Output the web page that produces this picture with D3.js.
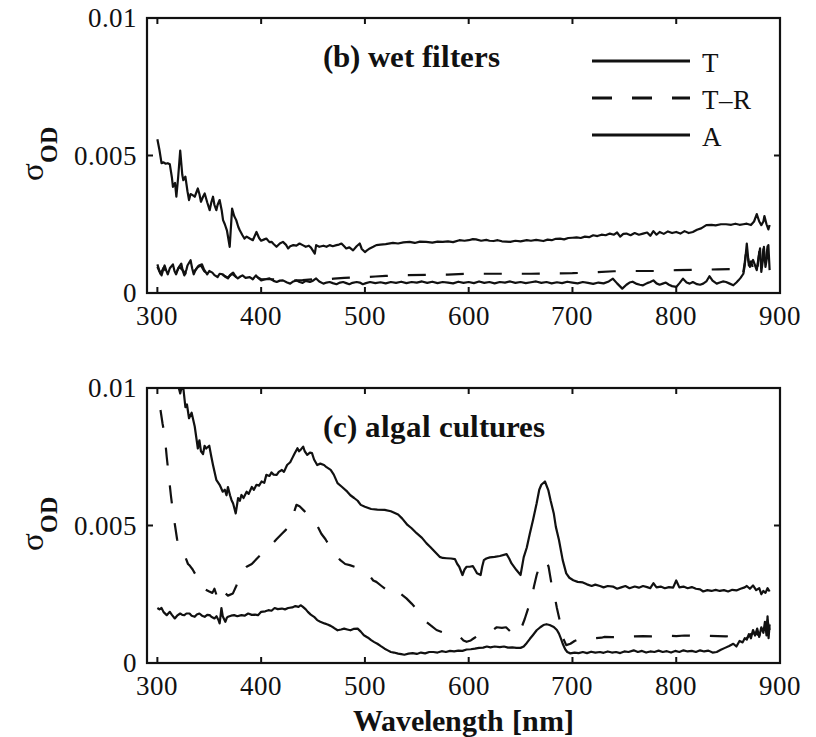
<!DOCTYPE html>
<html>
<head>
<meta charset="utf-8">
<script src="https://cdn.jsdelivr.net/npm/d3@7"></script>
<style>
  @font-face { font-family: "PlotSerif"; font-weight: normal; src: local("Liberation Serif"), local("LiberationSerif"), local("Times New Roman"); }
  @font-face { font-family: "PlotSerif"; font-weight: bold; src: local("Liberation Serif Bold"), local("LiberationSerif-Bold"), local("Times New Roman Bold"); }
  html, body { margin: 0; padding: 0; background: #fff; }
</style>
</head>
<body>
<svg id="fig" width="816" height="737" font-family="Liberation Serif, Times New Roman, serif"></svg>
<script>
// ---------- DATA (wavelength nm, sigma_OD in units of 1e-3) ----------
const xTicks = [300, 400, 500, 600, 700, 800, 900];
const yTicks = [0, 0.005, 0.01];
const yTickLabels = ["0", "0.005", "0.01"];
const panelTitles = ["(b) wet filters", "(c) algal cultures"];
const legendLabels = ["T", "T\u2013R", "A"];

// (b) wet filters
const wetT = [[300,5.59],[302,5.2],[304,4.72],[306,4.75],[308,4.7],[310,4.72],[312,4.68],[314,4.2],[315,3.86],[317,4.0],[318.3,3.5],[320,4.2],[322,5.18],[324,4.3],[325,4.1],[327,4.23],[329,3.7],[330.5,3.38],[332,3.6],[334,3.56],[336,3.5],[339,3.8],[340.5,3.6],[342,3.32],[344,3.5],[345.6,3.62],[348,3.3],[350.4,3.01],[352,3.3],[353.6,3.5],[355,3.2],[356.8,3.01],[358,3.2],[360,3.38],[362,3.0],[363.3,2.65],[365,2.5],[367,2.28],[369.7,1.68],[372,3.07],[374,2.8],[376,2.65],[378,2.4],[379.4,2.28],[382,2.1],[384,1.98],[386,2.05],[389,1.98],[392,1.92],[395.5,2.22],[398,2.0],[400,1.9],[403,1.95],[405,1.98],[408,1.85],[410,1.86],[412,1.78],[414.8,1.68],[418,1.8],[421,1.86],[424,1.75],[426,1.62],[428,1.7],[431,1.74],[434,1.72],[437,1.8],[440,1.74],[443,1.68],[446,1.72],[448,1.65],[451.7,1.43],[453,1.74],[456,1.68],[460,1.72],[463,1.68],[466,1.74],[469,1.7],[472.6,1.74],[475,1.76],[477.4,1.8],[480,1.7],[482,1.62],[485,1.66],[488.6,1.55],[492,1.7],[495,1.8],[497,1.6],[500,1.49],[502,1.55],[504.7,1.62],[508,1.68],[511,1.74],[515,1.76],[520,1.78],[527,1.82],[532,1.8],[537,1.84],[543,1.86],[548,1.82],[553,1.87],[559,1.86],[565,1.83],[570,1.87],[575,1.86],[580,1.88],[585,1.85],[591,1.92],[596,1.9],[600,1.92],[604,1.96],[607,1.95],[612,1.9],[617,1.93],[620,1.9],[624,1.89],[628,1.92],[632,1.88],[636,1.87],[640,1.86],[645,1.9],[650,1.88],[656,1.92],[660,1.9],[665,1.93],[672,1.89],[676,1.94],[680,1.92],[684,1.97],[688,1.98],[692,1.95],[696,2.0],[700,2.01],[704,2.02],[708,2.0],[712,2.05],[716,2.03],[720,2.1],[724,2.07],[728,2.12],[732,2.1],[736,2.16],[740,2.12],[743,2.2],[746,2.05],[749,2.15],[752,2.16],[756,2.1],[760,2.18],[764,2.12],[768,2.16],[772,2.2],[775,2.08],[778,2.25],[781,2.12],[784,2.22],[788,2.15],[792,2.24],[796,2.18],[800,2.22],[804,2.16],[808,2.25],[812,2.18],[816,2.22],[820,2.3],[824,2.35],[829,2.47],[834,2.48],[838,2.46],[843,2.5],[848,2.5],[853,2.48],[857,2.52],[861,2.48],[864.7,2.5],[868,2.52],[872,2.47],[875,2.6],[877.6,2.87],[880,2.6],[882,2.47],[884,2.6],[885,2.8],[887,2.5],[888.8,2.31],[890,2.47]];

const wetTR = [[300,0.95],[303,0.7],[306,0.92],[309,0.75],[312,0.95],[315,1.0],[318,0.72],[321,0.95],[324,0.85],[327,0.7],[330,1.05],[333,1.12],[336,0.8],[339,0.95],[342,1.0],[345,0.8],[348,0.7],[352,0.76],[356,0.62],[360,0.68],[364,0.64],[368,0.56],[372,0.7],[376,0.58],[380,0.62],[385,0.58],[390,0.56],[395,0.6],[400,0.5],[410,0.5],[420,0.48],[430,0.45],[440,0.47],[450,0.5],[460,0.48],[470,0.52],[480,0.55],[490,0.57],[500,0.58],[510,0.6],[520,0.62],[530,0.64],[540,0.65],[560,0.66],[580,0.67],[600,0.7],[620,0.7],[640,0.7],[660,0.7],[680,0.71],[700,0.72],[720,0.75],[740,0.79],[760,0.8],[780,0.8],[800,0.83],[820,0.84],[840,0.86],[855,0.87],[860,0.75],[864,0.6],[866,1.1],[868,1.7],[870,1.0],[872,1.15],[874,0.9],[876,1.1],[878,0.8],[880,1.5],[882,0.85],[884,1.6],[886,1.0],[888,1.7],[890,0.9]];

const wetA = [[300,1.04],[302,0.8],[304,0.64],[306,0.9],[307,1.0],[308.5,0.82],[310,0.68],[312,0.9],[315,1.04],[316.5,0.8],[318,0.68],[320,0.9],[323,1.07],[324.5,0.8],[326,0.64],[328,0.85],[329,1.0],[332,1.19],[333.5,0.9],[335,0.68],[337,0.85],[340,1.0],[343,1.04],[345,0.85],[348,0.68],[350,0.8],[353,0.74],[355,0.65],[358,0.58],[360,0.7],[363,0.68],[365,0.6],[368,0.53],[370,0.65],[373,0.74],[375,0.62],[377.5,0.53],[380,0.6],[382,0.64],[385,0.55],[389,0.58],[392,0.5],[395,0.64],[398,0.52],[400,0.46],[404,0.5],[408,0.53],[412,0.44],[415,0.4],[418,0.45],[421,0.46],[425,0.38],[428,0.34],[431,0.42],[434,0.46],[437,0.4],[440,0.37],[443,0.44],[447,0.4],[450,0.45],[453,0.53],[456,0.42],[460,0.34],[463,0.38],[466,0.4],[469,0.36],[472.6,0.32],[476,0.38],[479,0.4],[482,0.36],[485,0.32],[488,0.37],[492,0.4],[495,0.38],[498,0.32],[501,0.36],[505,0.4],[510,0.36],[515,0.39],[520,0.35],[525,0.4],[530,0.37],[535,0.41],[540,0.36],[545,0.4],[550,0.38],[555,0.42],[560,0.37],[565,0.41],[570,0.36],[575,0.4],[580,0.38],[585,0.35],[590,0.41],[595,0.37],[600,0.4],[605,0.36],[610,0.42],[615,0.37],[620,0.4],[625,0.35],[630,0.4],[635,0.38],[640,0.42],[645,0.37],[650,0.4],[655,0.36],[660,0.39],[665,0.42],[670,0.37],[675,0.4],[680,0.35],[685,0.39],[690,0.36],[695,0.41],[700,0.38],[705,0.35],[710,0.4],[715,0.37],[720,0.33],[725,0.38],[730,0.35],[735,0.42],[739,0.52],[743,0.35],[748,0.16],[752,0.3],[755,0.38],[758,0.41],[762,0.33],[765,0.3],[768,0.28],[772,0.36],[775,0.4],[778,0.46],[781,0.35],[784,0.3],[787,0.34],[790,0.38],[793,0.3],[796,0.25],[800,0.22],[803,0.35],[806.5,0.52],[810,0.38],[813,0.34],[816,0.4],[820,0.32],[823,0.3],[826,0.34],[829,0.42],[832,0.61],[835,0.45],[839,0.34],[842,0.38],[845,0.42],[848,0.4],[851,0.35],[855,0.28],[858,0.38],[860,0.46],[862,0.55],[864.7,0.7],[866,1.0],[868,1.8],[869.5,1.2],[871,0.95],[872.5,1.1],[874,1.2],[876,1.0],[877.6,0.83],[879,1.2],[880.8,1.62],[882,0.77],[883.5,1.2],[884.5,1.68],[886,0.95],[887.5,1.3],[888.8,1.74],[890,0.83]];

// (c) algal cultures
const algT = [[300,13.5],[310,12],[317,10.6],[320,10.1],[322,9.8],[323.5,10.05],[325,10.0],[327,9.3],[328.5,9.4],[330.5,8.9],[333,9.1],[336,8.6],[339,7.8],[340.5,8.1],[342,7.7],[344,7.6],[345.5,7.9],[347,7.8],[350,7.9],[352,7.5],[353.6,7.2],[356.8,6.66],[360,6.48],[363,6.23],[365,6.3],[366.6,6.1],[368,6.4],[370,6.1],[371.4,5.93],[373,5.8],[375.5,5.44],[377.8,6.0],[379.5,5.9],[381,6.11],[383,6.0],[386,6.23],[388,6.15],[391,6.4],[393,6.3],[395.5,6.48],[398,6.45],[400.4,6.6],[403,6.55],[405,6.84],[408,6.8],[410,6.93],[412,6.85],[415,6.84],[417,6.95],[420,7.02],[422,6.95],[425,7.2],[428,7.3],[430,7.45],[432,7.6],[435,7.81],[436.5,7.7],[438,7.75],[440.5,7.87],[442,7.7],[444.4,7.57],[447,7.65],[449,7.63],[451,7.4],[454,7.2],[457,7.25],[460.6,7.2],[463,7.12],[467,7.02],[470,6.85],[473.6,6.54],[478,6.4],[483,6.23],[486,6.1],[489.6,6.0],[493,5.9],[496,5.75],[500,5.68],[506,5.6],[512,5.58],[519,5.57],[525,5.52],[532,5.4],[536,5.25],[541,5.02],[545,4.9],[549.8,4.72],[555,4.55],[559.4,4.35],[563,4.22],[566,4.1],[569,3.98],[572,3.86],[575,3.82],[578.7,3.81],[583,3.8],[586.7,3.78],[589,3.6],[590.9,3.5],[594,3.2],[596,3.4],[598,3.5],[601,3.5],[604,3.52],[606,3.4],[608,3.26],[611.5,3.2],[613,3.5],[614.6,3.74],[617,3.8],[620.4,3.84],[625,3.86],[630,3.89],[636.5,3.96],[639,3.8],[641.3,3.62],[646,3.38],[650,3.2],[653,3.84],[656,4.2],[659,4.72],[662,5.2],[665.5,5.81],[668,6.3],[670,6.48],[673.5,6.6],[676.7,6.29],[679,5.9],[682,5.44],[684,4.95],[687,4.47],[690.6,3.74],[694,3.26],[697,3.1],[700.8,3.01],[705,2.95],[710,2.93],[714,2.86],[718.5,2.8],[722,2.85],[726.5,2.8],[730,2.75],[734,2.8],[739,2.78],[743,2.7],[747,2.75],[751,2.8],[755,2.72],[760,2.78],[764,2.74],[768,2.8],[772,2.76],[775,2.72],[778,2.9],[781,2.75],[785,2.78],[789,2.72],[793,2.76],[797,2.74],[800,3.0],[803,2.75],[807,2.78],[811,2.72],[815,2.76],[819,2.7],[823,2.68],[826,2.6],[830,2.65],[834,2.62],[838,2.66],[842,2.62],[846,2.65],[850,2.6],[854,2.66],[858,2.64],[862,2.7],[866,2.75],[868,2.8],[871,2.7],[874,2.82],[877,2.65],[880,2.72],[882,2.5],[884,2.62],[886,2.55],[888,2.72],[890,2.6]];

const algTR = [[303,9.2],[305,8.7],[307,8.3],[309,7.5],[311,6.8],[313,6.1],[315,5.5],[317,5.0],[319,4.5],[321,4.2],[323,4.0],[325,3.95],[327,3.85],[329.5,3.6],[331,3.55],[334,3.4],[337,3.2],[341,2.83],[345,2.7],[350,2.6],[353,2.55],[355,2.7],[357,2.47],[360,2.6],[362,2.8],[365,2.55],[368,2.45],[372.8,2.53],[376,2.8],[381,3.3],[386,3.5],[391,3.6],[396,3.8],[400,3.95],[405,4.1],[410,4.3],[414.8,4.5],[420,4.7],[424,4.85],[427.6,5.0],[431,5.4],[434,5.75],[437,5.7],[441,5.55],[445,5.4],[450,5.26],[454,5.0],[458,4.7],[462,4.5],[466,4.25],[471,4.0],[476,3.75],[481,3.6],[485.4,3.56],[490,3.5],[495,3.4],[500,3.3],[505,3.15],[508,3.0],[511,2.95],[516,2.8],[521,2.65],[526,2.5],[530,2.6],[534,2.53],[540,2.35],[545,2.16],[550,1.95],[555,1.7],[559,1.5],[564,1.35],[569,1.2],[574,1.13],[580,1.05],[586,0.98],[591.5,0.95],[595,0.82],[598,0.77],[602,0.82],[605,0.9],[609,1.0],[614,1.05],[620,1.1],[627,1.3],[632,1.28],[636,1.3],[640,1.15],[643,1.07],[647,1.0],[650,1.2],[654,1.6],[657,1.95],[660.6,2.35],[663,2.8],[665.5,3.2],[668,3.5],[671,3.7],[673,3.74],[675,3.7],[677,3.5],[680,2.83],[683,2.4],[685,2.0],[688,1.5],[691,0.9],[694,0.65],[698,0.7],[702,0.8],[706,0.86],[710,0.89],[716,0.9],[722,0.9],[728,0.92],[731,0.95],[738,0.94],[746,0.95],[752,0.96],[760,0.97],[768,0.98],[776,0.97],[784,0.98],[792,0.99],[800,0.98],[808,1.0],[816,0.99],[824,0.98],[832,0.99],[840,0.98],[848,0.97],[855,0.98],[860,0.85],[864,0.8],[868,0.9],[872,1.05],[876,1.1],[880,1.0],[883,1.3],[886,1.15],[888,1.55],[890,1.2]];

const algA = [[300,2.0],[302,1.95],[304,2.0],[306,1.85],[309,1.74],[312,1.86],[314,1.75],[316.8,1.62],[319,1.72],[322,1.8],[324,1.75],[326,1.74],[328,1.8],[331,1.8],[333,1.72],[336,1.68],[338,1.76],[340.5,1.8],[343,1.72],[345.6,1.68],[348,1.75],[350.4,1.74],[352,1.68],[355,1.62],[357,1.7],[359,1.55],[360,1.44],[361,1.75],[361.7,2.0],[363,1.7],[364,1.62],[365.5,1.5],[367,1.65],[368,1.68],[371,1.72],[374,1.74],[377,1.7],[381,1.74],[384,1.72],[387.5,1.8],[391,1.75],[394,1.76],[397,1.74],[400,1.86],[404,1.88],[407,1.92],[410,1.9],[413,2.0],[416,1.96],[420,1.98],[423,1.95],[426,2.0],[430,2.02],[433,2.07],[436,2.04],[438,2.1],[440,2.05],[443,1.95],[445,1.86],[447.8,1.76],[451,1.68],[454,1.56],[457,1.5],[461,1.44],[464,1.4],[467,1.35],[470,1.28],[473.6,1.19],[477,1.22],[480,1.25],[483,1.22],[486,1.19],[489,1.24],[493,1.25],[496,1.14],[499,1.01],[503,0.92],[506,0.83],[509,0.76],[512,0.7],[515,0.62],[519,0.52],[522,0.46],[525,0.4],[528,0.38],[532,0.34],[535,0.32],[538,0.3],[542,0.34],[546,0.36],[550,0.33],[554,0.38],[558,0.35],[562,0.4],[566,0.4],[570,0.38],[574,0.43],[578,0.4],[582,0.44],[586,0.42],[590,0.45],[594,0.44],[598,0.49],[602,0.5],[606,0.52],[610,0.55],[614,0.56],[617.5,0.6],[621,0.57],[625,0.6],[630,0.58],[634,0.6],[638,0.56],[642,0.57],[646,0.55],[650,0.55],[653,0.6],[656,0.73],[659,0.88],[662,1.02],[665.5,1.19],[669,1.3],[672,1.38],[675,1.41],[678,1.38],[682,1.31],[685,1.2],[687,1.07],[689,0.88],[690.6,0.7],[693,0.5],[695,0.4],[698,0.35],[702,0.38],[706,0.36],[710,0.4],[714,0.36],[718,0.41],[722,0.38],[726.5,0.4],[730,0.37],[734,0.42],[738,0.38],[742,0.4],[746,0.36],[750,0.42],[754,0.4],[759,0.46],[763,0.4],[767,0.44],[771,0.38],[775,0.42],[779,0.4],[783,0.45],[787,0.4],[791,0.43],[795,0.38],[799,0.44],[803,0.4],[807,0.46],[811,0.42],[815,0.44],[819,0.4],[823,0.46],[827,0.42],[831,0.45],[835,0.38],[839,0.4],[843,0.48],[847,0.55],[851,0.62],[855,0.7],[858,0.6],[861,0.8],[864,0.75],[866,0.9],[868,0.85],[870,1.05],[872,0.9],[874,1.2],[876,1.0],[878,1.25],[880,0.95],[882,1.3],[884,1.1],[885.5,1.5],[887,1.0],[888,1.7],[889,0.9],[890,1.4]];

// ---------- DRAWING ----------
const FONT = "PlotSerif, 'Liberation Serif', 'Times New Roman', serif";
const svg = d3.select("#fig");
const xDomain = [290, 900];
const left = 147, right = 780;
const panels = [
  { top: 18, bottom: 293, title: panelTitles[0], series: [wetT, wetTR, wetA], legend: true },
  { top: 388, bottom: 663, title: panelTitles[1], series: [algT, algTR, algA], legend: false }
];
const styles = [
  { dash: null, width: 2.2 },
  { dash: "18,20", width: 2.2 },
  { dash: null, width: 2.2 }
];
function txt(sel) {
  return sel.attr("font-family", "Liberation Serif, Times New Roman, serif")
    .style("font-family", FONT).attr("fill", "#111");
}

panels.forEach((p, i) => {
  const x = d3.scaleLinear().domain(xDomain).range([left, right]);
  const y = d3.scaleLinear().domain([0, 0.01]).range([p.bottom, p.top]);
  const g = svg.append("g");

  const clipId = "clip" + i;
  svg.append("clipPath").attr("id", clipId)
    .append("rect").attr("x", left).attr("y", p.top)
    .attr("width", right - left).attr("height", p.bottom - p.top);

  const line = d3.line().x(d => x(d[0])).y(d => y(d[1] * 1e-3));
  const plot = g.append("g").attr("clip-path", `url(#${clipId})`);
  p.series.forEach((s, k) => {
    plot.append("path").datum(s)
      .attr("d", line)
      .attr("fill", "none")
      .attr("stroke", "#111")
      .attr("stroke-width", styles[k].width)
      .attr("stroke-linejoin", "round")
      .attr("stroke-dasharray", styles[k].dash);
  });

  const tl = 6;
  const ticks = g.append("g").attr("stroke", "#111").attr("stroke-width", 2);
  xTicks.forEach(t => {
    ticks.append("line").attr("x1", x(t)).attr("x2", x(t)).attr("y1", p.bottom).attr("y2", p.bottom - tl);
    ticks.append("line").attr("x1", x(t)).attr("x2", x(t)).attr("y1", p.top).attr("y2", p.top + tl);
    txt(g.append("text")).attr("x", x(t)).attr("y", p.bottom + 32)
      .attr("text-anchor", "middle").attr("font-size", 27).text(t);
  });
  yTicks.forEach((t, j) => {
    ticks.append("line").attr("x1", left).attr("x2", left + tl).attr("y1", y(t)).attr("y2", y(t));
    ticks.append("line").attr("x1", right).attr("x2", right - tl).attr("y1", y(t)).attr("y2", y(t));
    txt(g.append("text")).attr("x", left - 10).attr("y", y(t) + 9)
      .attr("text-anchor", "end").attr("font-size", 27).text(yTickLabels[j]);
  });

  g.append("rect").attr("x", left).attr("y", p.top)
    .attr("width", right - left).attr("height", p.bottom - p.top)
    .attr("fill", "none").attr("stroke", "#111").attr("stroke-width", 2.2);

  txt(g.append("text")).attr("x", 323).attr("y", p.top + 49)
    .attr("font-size", 31).attr("font-weight", "bold").text(p.title);

  const yl = txt(g.append("text"))
    .attr("transform", `translate(43,${(p.top + p.bottom) / 2 + 25}) rotate(-90)`);
  yl.append("tspan").attr("font-size", 33).text("\u03C3");
  yl.append("tspan").attr("font-size", 24).attr("font-weight", "bold").attr("dy", 14).text("OD");

  if (p.legend) {
    const lx0 = 592, lx1 = 690;
    const lys = [61, 98, 135];
    legendLabels.forEach((lab, k) => {
      g.append("line").attr("x1", lx0).attr("x2", lx1).attr("y1", lys[k]).attr("y2", lys[k])
        .attr("stroke", "#111").attr("stroke-width", 3)
        .attr("stroke-dasharray", k === 1 ? "20,20" : null);
      txt(g.append("text")).attr("x", 702).attr("y", lys[k] + 10.5)
        .attr("font-size", 27).text(lab);
    });
  }
});

txt(svg.append("text")).attr("x", (left + right) / 2).attr("y", 731)
  .attr("text-anchor", "middle").attr("font-size", 30).attr("font-weight", "bold")
  .text("Wavelength [nm]");
</script>
</body>
</html>
